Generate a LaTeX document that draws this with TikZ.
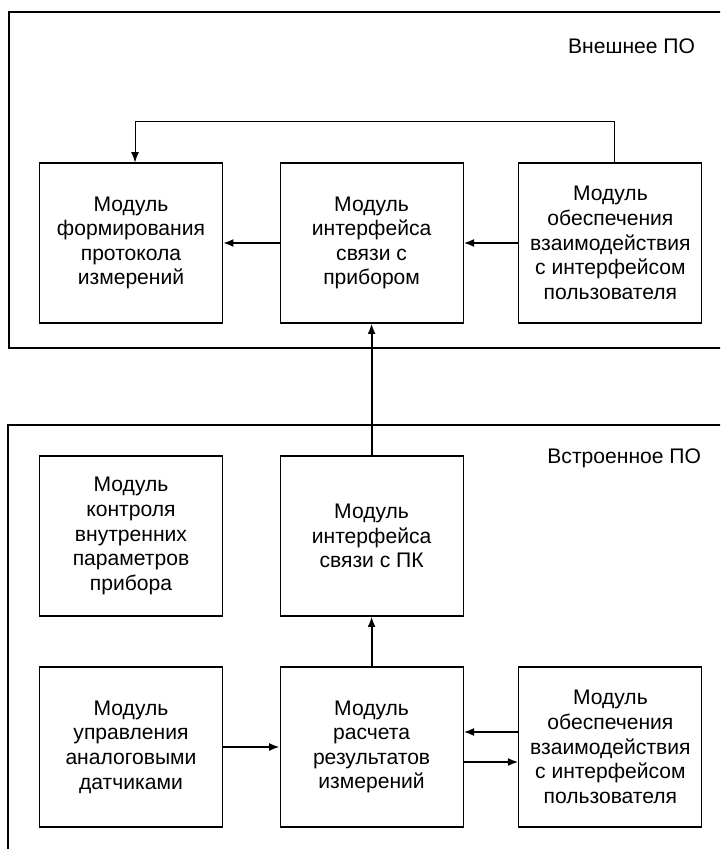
\documentclass[tikz,border=0pt]{standalone}
\usepackage{fontspec}
\setmainfont{Liberation Sans}
\usetikzlibrary{arrows.meta}

\tikzset{
  modbox/.style={draw, line width=0.8pt, minimum width=4.575cm, minimum height=4cm,
    inner sep=0pt, align=center, font=\fontsize{15}{17.5}\selectfont},
  frame/.style={draw, line width=0.8pt},
  link/.style={line width=1.3pt, -{Latex[length=2.6mm,width=2mm]}},
  thinlink/.style={line width=0.6pt, -{Latex[length=2.6mm,width=2mm]}},
  caption/.style={anchor=east, font=\fontsize{15}{17.5}\selectfont}
}

\begin{document}
\begin{tikzpicture}
  \useasboundingbox (0,0) rectangle (18,-21.225);
  \begin{scope}
  \clip (0,0) rectangle (18,-21.225);
  % frames
  \draw[frame] (0.225,-0.3) rectangle (18.4,-8.7);
  \draw[frame] (0.2,-10.625) rectangle (18.4,-21.6);
  \end{scope}
  \node[caption] (ext) at (17.5,-1.15) {Внешнее ПО};
  \node[caption] (emb) at (17.65,-11.45) {Встроенное ПО};

  % external software
  \node[modbox] (report) at (3.275,-6.075) {Модуль\\формирования\\протокола\\измерений};
  \node[modbox] (devif) at (9.29,-6.075) {Модуль\\интерфейса\\связи с\\прибором};
  \node[modbox] (extui) at (15.26,-6.075) {Модуль\\обеспечения\\взаимодействия\\с интерфейсом\\пользователя};

  % embedded software
  \node[modbox] (ctrl) at (3.275,-13.4) {Модуль\\контроля\\внутренних\\параметров\\прибора};
  \node[modbox] (pcif) at (9.29,-13.4) {Модуль\\интерфейса\\связи с ПК};
  \node[modbox] (sens) at (3.275,-18.675) {Модуль\\управления\\аналоговыми\\датчиками};
  \node[modbox] (calc) at (9.29,-18.675) {Модуль\\расчета\\результатов\\измерений};
  \node[modbox] (embui) at (15.26,-18.675) {Модуль\\обеспечения\\взаимодействия\\с интерфейсом\\пользователя};

  \draw[link] (devif) -- (report);
  \draw[link] (extui) -- (devif);
  \draw[thinlink] ([xshift=0.1cm]extui.north) -- ++(0,1.025) -| ([xshift=0.1cm]report.north);
  \draw[link] (pcif) -- (devif);
  \draw[link] (calc) -- (pcif);
  \draw[link] (sens) -- (calc);
  \draw[link] ([yshift=0.375cm]embui.west) -- ([yshift=0.375cm]calc.east);
  \draw[link] ([yshift=-0.375cm]calc.east) -- ([yshift=-0.375cm]embui.west);
\end{tikzpicture}
\end{document}
